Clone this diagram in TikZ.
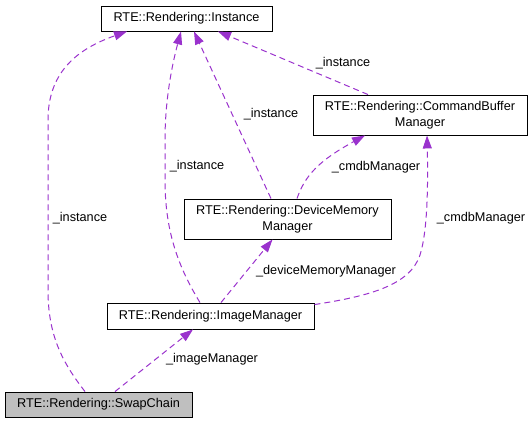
\documentclass[tikz,border=0pt]{standalone}
\usepackage{fontspec}
\setmainfont{Liberation Sans}
\usetikzlibrary{arrows.meta}
\definecolor{edgec}{HTML}{9A32CD}
\definecolor{boxgray}{HTML}{BFBFBF}
\tikzset{
  cls/.style={draw=black, line width=0.9pt, inner sep=0pt, align=center, font=\fontsize{12.7}{16}\selectfont},
  lbl/.style={inner sep=0pt, font=\fontsize{12.7}{16}\selectfont},
  rel/.style={draw=edgec, line width=1pt, dash pattern=on 6pt off 4pt, -{Triangle[length=13pt,width=9pt]}},
}
\begin{document}
\begin{tikzpicture}[x=1pt,y=-1pt]
\useasboundingbox (0,0) rectangle (532,424);
\node[cls, minimum width=171pt, minimum height=25pt] (inst) at (186.5,18.5) {RTE::Rendering::Instance};
\node[cls, minimum width=214pt, minimum height=40pt] (cbm) at (420,115) {RTE::Rendering::CommandBuffer\\Manager};
\node[cls, minimum width=207pt, minimum height=40pt] (dmm) at (287.5,219) {RTE::Rendering::DeviceMemory\\Manager};
\node[cls, minimum width=207pt, minimum height=26pt] (im) at (210.5,316) {RTE::Rendering::ImageManager};
\node[cls, fill=boxgray, minimum width=187pt, minimum height=25pt] (sc) at (98.5,404.5) {RTE::Rendering::SwapChain};

% SwapChain -> Instance
\draw[rel] ([xshift=-13.5pt]sc.north) .. controls (62,362) and (48,335) .. (48,290) -- (48,120) .. controls (48,70) and (80,48) .. ([xshift=-59.5pt]inst.south);
\node[lbl] (l1) at (80,218) {\_instance};
% ImageManager -> Instance
\draw[rel] ([xshift=-10.5pt]im.north) .. controls (175,262) and (165,225) .. (165,180) -- (165,140) .. controls (165,100) and (172,65) .. ([xshift=-5.5pt]inst.south);
\node[lbl] (l2) at (197,166) {\_instance};
% DeviceMemoryManager -> Instance
\draw[rel] ([xshift=-16.5pt]dmm.north) -- ([xshift=7.5pt]inst.south);
\node[lbl] (l3) at (271,114) {\_instance};
% CommandBufferManager -> Instance
\draw[rel] ([xshift=-52pt]cbm.north) -- ([xshift=31.5pt]inst.south);
\node[lbl] (l4) at (343,63) {\_instance};
% DeviceMemoryManager -> CommandBufferManager
\draw[rel] ([xshift=9.5pt]dmm.north) .. controls (305,175) and (320,160) .. ([xshift=-55pt]cbm.south);
\node[lbl] (l5) at (376,167) {\_cmdbManager};
% ImageManager -> CommandBufferManager
\draw[rel] ([yshift=-2pt]im.north east) .. controls (370,296) and (410,285) .. (420,255) .. controls (428,230) and (428,180) .. ([xshift=7pt]cbm.south);
\node[lbl] (l6) at (481,218) {\_cmdbManager};
% ImageManager -> DeviceMemoryManager
\draw[rel] ([xshift=10.5pt]im.north) -- ([xshift=-15pt]dmm.south);
\node[lbl] (l7) at (326,271) {\_deviceMemoryManager};
% SwapChain -> ImageManager
\draw[rel] ([xshift=16.5pt]sc.north) -- ([xshift=-17.5pt]im.south);
\node[lbl] (l8) at (212,359) {\_imageManager};
\end{tikzpicture}
\end{document}
